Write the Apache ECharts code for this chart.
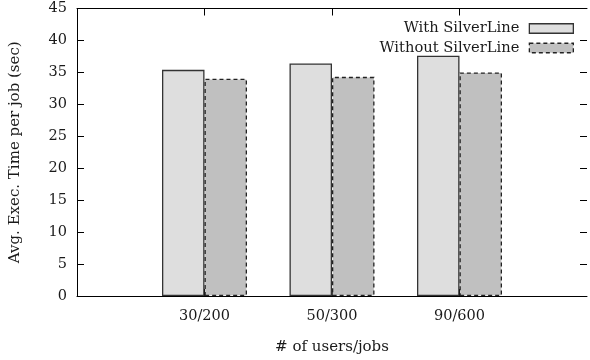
<!DOCTYPE html>
<html>
<head>
<meta charset="utf-8">
<script src="https://cdn.jsdelivr.net/npm/echarts@6/dist/echarts.min.js"></script>
<style>
html,body{margin:0;padding:0;background:#fff;}
#chart{width:590px;height:360px;}
</style>
</head>
<body>
<div id="chart"></div>
<script>
const categories = ['30/200', '50/300', '90/600'];
const withSilverLine = [35.4, 36.4, 37.6];
const withoutSilverLine = [34.0, 34.3, 35.0];
const yTicks = [0, 5, 10, 15, 20, 25, 30, 35, 40, 45];
const seriesNames = ['With SilverLine', 'Without SilverLine'];
const xName = '# of users/jobs';
const yName = 'Avg. Exec. Time per job (sec)';

const FONT = 'DejaVu Serif';
const TXT = '#1a1a1a';
const xData = [''].concat(categories, ['']);
const pad = arr => ['-'].concat(arr, ['-']);
const tickFilter = (idx, val) => val !== '';

const withStyle = {color: '#dedede', borderColor: '#333', borderWidth: 1.3, borderType: 'solid'};
const withoutStyle = {color: '#c0c0c0', borderColor: '#222', borderWidth: 1.3, borderType: [4, 3]};

const chart = echarts.init(document.getElementById('chart'), null, {renderer: 'canvas'});
chart.setOption({
  backgroundColor: '#fff',
  animation: false,
  textStyle: {fontFamily: FONT},
  grid: {left: 74.5, right: -1, top: 8.5, bottom: 61},
  legend: {
    orient: 'vertical',
    right: 11,
    top: 16,
    align: 'right',
    itemWidth: 44,
    itemHeight: 9.5,
    itemGap: 4.5,
    icon: 'rect',
    textStyle: {fontFamily: FONT, fontSize: 14.7, color: TXT, padding: [0, 5, 0, 0]},
    data: [
      {name: seriesNames[0], itemStyle: withStyle},
      {name: seriesNames[1], itemStyle: withoutStyle}
    ]
  },
  xAxis: [{
    type: 'category',
    data: xData,
    boundaryGap: false,
    name: xName,
    nameLocation: 'middle',
    nameGap: 44,
    nameTextStyle: {fontFamily: FONT, fontSize: 15, color: TXT},
    axisLine: {onZero: false, lineStyle: {color: '#000', width: 1}},
    axisTick: {show: true, inside: true, length: 7, interval: tickFilter, lineStyle: {color: '#000'}},
    axisLabel: {interval: 0, margin: 13, fontFamily: FONT, fontSize: 14.5, color: TXT},
    splitLine: {show: false}
  }, {
    type: 'category',
    position: 'top',
    data: xData,
    boundaryGap: false,
    axisLine: {show: true, onZero: false, lineStyle: {color: '#000', width: 1}},
    axisTick: {show: true, inside: true, length: 7, interval: tickFilter, lineStyle: {color: '#000'}},
    axisLabel: {show: false},
    splitLine: {show: false}
  }],
  yAxis: [{
    type: 'value',
    min: yTicks[0],
    max: yTicks[yTicks.length - 1],
    interval: yTicks[1] - yTicks[0],
    name: yName,
    nameLocation: 'middle',
    nameGap: 54,
    nameTextStyle: {fontFamily: FONT, fontSize: 15, color: TXT},
    axisLine: {show: true, onZero: false, lineStyle: {color: '#000', width: 1}},
    axisTick: {show: true, inside: true, length: 7, lineStyle: {color: '#000'}},
    axisLabel: {margin: 10, fontFamily: FONT, fontSize: 14.5, color: TXT},
    splitLine: {show: false}
  }, {
    type: 'value',
    position: 'right',
    min: yTicks[0],
    max: yTicks[yTicks.length - 1],
    interval: yTicks[1] - yTicks[0],
    axisLine: {show: false},
    axisTick: {show: true, inside: true, length: 7, lineStyle: {color: '#000'}},
    axisLabel: {show: false},
    splitLine: {show: false}
  }],
  series: [{
    name: seriesNames[0],
    type: 'bar',
    data: pad(withSilverLine),
    barWidth: '33.333%',
    barGap: '0%',
    itemStyle: withStyle
  }, {
    name: seriesNames[1],
    type: 'bar',
    data: pad(withoutSilverLine),
    barWidth: '33.333%',
    barGap: '0%',
    itemStyle: withoutStyle
  }]
});
</script>
</body>
</html>
